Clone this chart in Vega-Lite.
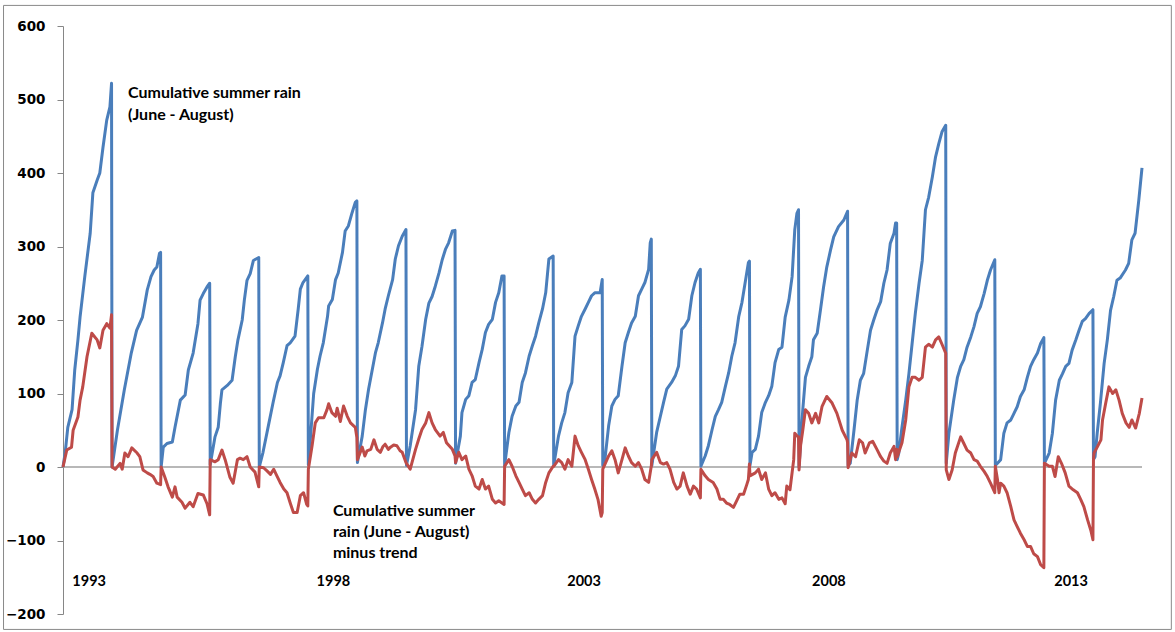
{
"$schema": "https://vega.github.io/schema/vega-lite/v6.json",
"width": 1079, "height": 588,
"autosize": {"type": "none"},
"padding": {"left": 63, "top": 26, "right": 33, "bottom": 18},
"background": "white",
"config": {"view": {"stroke": null},
"axisY": {"title": null, "grid": false, "tickSize": 6, "tickColor": "#868686", "domainColor": "#868686", "labelFont": "DejaVu Sans", "labelFontWeight": "bold", "labelFontSize": 13.5, "labelColor": "#000000", "labelPadding": 12}},
"datasets": {
"rain": [
{"i":0,"v":0},{"i":4,"v":19},{"i":9,"v":54},{"i":17,"v":78},{"i":22,"v":132},{"i":28,"v":173},{"i":32,"v":204},{"i":41,"v":260},{"i":51,"v":318},{"i":56,"v":373},{"i":64,"v":390},{"i":69,"v":400},{"i":75,"v":435},{"i":82,"v":472},{"i":88,"v":490},{"i":91,"v":522},
{"i":92,"v":0},{"i":102,"v":50},{"i":115,"v":105},{"i":128,"v":155},{"i":138,"v":186},{"i":149,"v":204},{"i":158,"v":241},{"i":165,"v":259},{"i":171,"v":268},{"i":176,"v":272},{"i":181,"v":291},{"i":183,"v":292},
{"i":184,"v":0},{"i":188,"v":27},{"i":195,"v":32},{"i":205,"v":34},{"i":210,"v":54},{"i":220,"v":91},{"i":229,"v":98},{"i":235,"v":132},{"i":244,"v":155},{"i":253,"v":195},{"i":257,"v":227},{"i":263,"v":236},{"i":270,"v":245},{"i":275,"v":250},
{"i":276,"v":3},{"i":285,"v":41},{"i":291,"v":54},{"i":295,"v":86},{"i":298,"v":105},{"i":308,"v":111},{"i":317,"v":118},{"i":323,"v":150},{"i":328,"v":173},{"i":336,"v":200},{"i":340,"v":227},{"i":345,"v":254},{"i":351,"v":263},{"i":357,"v":281},{"i":367,"v":285},
{"i":368,"v":0},{"i":375,"v":20},{"i":385,"v":56},{"i":394,"v":88},{"i":402,"v":115},{"i":407,"v":124},{"i":413,"v":142},{"i":420,"v":165},{"i":426,"v":169},{"i":435,"v":178},{"i":441,"v":215},{"i":445,"v":242},{"i":450,"v":251},{"i":459,"v":260},
{"i":460,"v":3},{"i":465,"v":50},{"i":470,"v":100},{"i":477,"v":133},{"i":482,"v":151},{"i":488,"v":169},{"i":496,"v":205},{"i":498,"v":219},{"i":505,"v":228},{"i":511,"v":255},{"i":516,"v":264},{"i":524,"v":292},{"i":529,"v":321},{"i":535,"v":328},{"i":542,"v":346},{"i":548,"v":360},{"i":551,"v":362},
{"i":552,"v":6},{"i":561,"v":42},{"i":567,"v":78},{"i":573,"v":106},{"i":580,"v":133},{"i":586,"v":156},{"i":591,"v":169},{"i":599,"v":196},{"i":604,"v":215},{"i":610,"v":233},{"i":618,"v":255},{"i":623,"v":283},{"i":629,"v":301},{"i":636,"v":314},{"i":643,"v":323},
{"i":644,"v":2},{"i":651,"v":29},{"i":661,"v":78},{"i":667,"v":137},{"i":673,"v":164},{"i":680,"v":201},{"i":686,"v":223},{"i":692,"v":232},{"i":698,"v":246},{"i":705,"v":264},{"i":711,"v":282},{"i":717,"v":296},{"i":723,"v":305},{"i":730,"v":321},{"i":735,"v":322},
{"i":736,"v":5},{"i":745,"v":42},{"i":748,"v":74},{"i":755,"v":92},{"i":761,"v":97},{"i":767,"v":115},{"i":773,"v":119},{"i":780,"v":142},{"i":786,"v":160},{"i":792,"v":183},{"i":798,"v":194},{"i":805,"v":201},{"i":811,"v":224},{"i":817,"v":237},{"i":823,"v":260},{"i":827,"v":260},
{"i":828,"v":2},{"i":836,"v":47},{"i":842,"v":69},{"i":849,"v":83},{"i":855,"v":88},{"i":861,"v":115},{"i":867,"v":128},{"i":874,"v":151},{"i":880,"v":165},{"i":886,"v":178},{"i":892,"v":196},{"i":899,"v":215},{"i":905,"v":237},{"i":911,"v":283},{"i":919,"v":287},
{"i":920,"v":2},{"i":929,"v":42},{"i":935,"v":60},{"i":941,"v":74},{"i":947,"v":101},{"i":954,"v":115},{"i":960,"v":178},{"i":966,"v":192},{"i":972,"v":205},{"i":979,"v":215},{"i":985,"v":224},{"i":991,"v":233},{"i":997,"v":237},{"i":1007,"v":237},{"i":1011,"v":255},
{"i":1012,"v":2},{"i":1016,"v":10},{"i":1023,"v":56},{"i":1029,"v":83},{"i":1035,"v":92},{"i":1041,"v":97},{"i":1048,"v":137},{"i":1054,"v":169},{"i":1060,"v":183},{"i":1066,"v":196},{"i":1073,"v":205},{"i":1079,"v":233},{"i":1085,"v":242},{"i":1091,"v":251},{"i":1098,"v":269},{"i":1101,"v":305},{"i":1103,"v":310},
{"i":1104,"v":2},{"i":1113,"v":47},{"i":1120,"v":69},{"i":1126,"v":88},{"i":1132,"v":106},{"i":1141,"v":115},{"i":1148,"v":124},{"i":1154,"v":137},{"i":1160,"v":187},{"i":1166,"v":192},{"i":1173,"v":201},{"i":1179,"v":233},{"i":1185,"v":251},{"i":1191,"v":264},{"i":1195,"v":269},
{"i":1196,"v":1},{"i":1204,"v":15},{"i":1210,"v":29},{"i":1217,"v":51},{"i":1223,"v":69},{"i":1229,"v":78},{"i":1235,"v":88},{"i":1242,"v":110},{"i":1248,"v":128},{"i":1254,"v":151},{"i":1260,"v":169},{"i":1267,"v":205},{"i":1273,"v":224},{"i":1279,"v":251},{"i":1285,"v":278},{"i":1287,"v":280},
{"i":1288,"v":2},{"i":1292,"v":20},{"i":1298,"v":24},{"i":1304,"v":42},{"i":1310,"v":74},{"i":1317,"v":88},{"i":1323,"v":97},{"i":1329,"v":110},{"i":1335,"v":142},{"i":1342,"v":160},{"i":1348,"v":163},{"i":1354,"v":204},{"i":1361,"v":227},{"i":1367,"v":259},{"i":1372,"v":323},{"i":1376,"v":345},{"i":1379,"v":350},
{"i":1380,"v":0},{"i":1387,"v":78},{"i":1392,"v":122},{"i":1398,"v":137},{"i":1404,"v":150},{"i":1407,"v":173},{"i":1414,"v":182},{"i":1420,"v":213},{"i":1426,"v":245},{"i":1432,"v":272},{"i":1439,"v":295},{"i":1445,"v":313},{"i":1454,"v":327},{"i":1464,"v":336},{"i":1471,"v":348},
{"i":1472,"v":2},{"i":1476,"v":5},{"i":1483,"v":50},{"i":1489,"v":91},{"i":1495,"v":118},{"i":1501,"v":127},{"i":1508,"v":159},{"i":1514,"v":186},{"i":1520,"v":200},{"i":1526,"v":213},{"i":1533,"v":225},{"i":1539,"v":250},{"i":1545,"v":268},{"i":1551,"v":304},{"i":1558,"v":318},{"i":1561,"v":332},{"i":1563,"v":332},
{"i":1564,"v":10},{"i":1567,"v":19},{"i":1573,"v":54},{"i":1580,"v":91},{"i":1586,"v":127},{"i":1592,"v":168},{"i":1598,"v":209},{"i":1605,"v":250},{"i":1611,"v":281},{"i":1617,"v":350},{"i":1623,"v":367},{"i":1630,"v":395},{"i":1636,"v":422},{"i":1642,"v":440},{"i":1648,"v":456},{"i":1655,"v":465},
{"i":1656,"v":5},{"i":1661,"v":46},{"i":1670,"v":91},{"i":1677,"v":122},{"i":1683,"v":137},{"i":1689,"v":146},{"i":1695,"v":163},{"i":1702,"v":177},{"i":1708,"v":191},{"i":1714,"v":209},{"i":1720,"v":218},{"i":1727,"v":236},{"i":1733,"v":254},{"i":1739,"v":268},{"i":1747,"v":282},
{"i":1748,"v":2},{"i":1752,"v":5},{"i":1758,"v":10},{"i":1764,"v":46},{"i":1770,"v":60},{"i":1777,"v":64},{"i":1783,"v":73},{"i":1789,"v":82},{"i":1795,"v":96},{"i":1802,"v":105},{"i":1808,"v":122},{"i":1814,"v":137},{"i":1820,"v":146},{"i":1827,"v":155},{"i":1833,"v":168},{"i":1839,"v":176},
{"i":1840,"v":5},{"i":1849,"v":19},{"i":1855,"v":46},{"i":1861,"v":91},{"i":1868,"v":118},{"i":1874,"v":127},{"i":1880,"v":137},{"i":1886,"v":141},{"i":1892,"v":159},{"i":1899,"v":173},{"i":1905,"v":186},{"i":1911,"v":198},{"i":1917,"v":202},{"i":1924,"v":209},{"i":1931,"v":214},
{"i":1932,"v":10},{"i":1935,"v":14},{"i":1939,"v":46},{"i":1945,"v":87},{"i":1952,"v":141},{"i":1958,"v":173},{"i":1964,"v":213},{"i":1970,"v":232},{"i":1976,"v":254},{"i":1982,"v":257},{"i":1992,"v":268},{"i":1998,"v":277},{"i":2004,"v":309},{"i":2010,"v":318},{"i":2017,"v":363},{"i":2023,"v":407}
],
"detrended": [
{"i":0,"v":0},{"i":7,"v":23},{"i":16,"v":27},{"i":19,"v":50},{"i":28,"v":68},{"i":32,"v":91},{"i":37,"v":109},{"i":45,"v":150},{"i":54,"v":182},{"i":64,"v":173},{"i":69,"v":162},{"i":75,"v":186},{"i":82,"v":195},{"i":88,"v":189},{"i":91,"v":207},
{"i":92,"v":0},{"i":98,"v":-3},{"i":107,"v":5},{"i":111,"v":-3},{"i":116,"v":19},{"i":122,"v":14},{"i":129,"v":26},{"i":139,"v":19},{"i":144,"v":14},{"i":150,"v":-4},{"i":158,"v":-8},{"i":163,"v":-10},{"i":169,"v":-13},{"i":176,"v":-22},{"i":183,"v":-24},
{"i":184,"v":0},{"i":191,"v":-14},{"i":197,"v":-27},{"i":205,"v":-41},{"i":210,"v":-27},{"i":214,"v":-41},{"i":223,"v":-48},{"i":229,"v":-56},{"i":238,"v":-48},{"i":244,"v":-54},{"i":253,"v":-36},{"i":263,"v":-38},{"i":270,"v":-50},{"i":275,"v":-65},
{"i":276,"v":10},{"i":285,"v":7},{"i":291,"v":10},{"i":298,"v":23},{"i":304,"v":10},{"i":313,"v":-14},{"i":319,"v":-22},{"i":327,"v":10},{"i":332,"v":12},{"i":338,"v":10},{"i":345,"v":14},{"i":351,"v":0},{"i":360,"v":-7},{"i":367,"v":-27},
{"i":368,"v":0},{"i":376,"v":-1},{"i":382,"v":-5},{"i":389,"v":-10},{"i":395,"v":-3},{"i":401,"v":-12},{"i":407,"v":-21},{"i":414,"v":-30},{"i":420,"v":-35},{"i":426,"v":-49},{"i":432,"v":-62},{"i":439,"v":-62},{"i":445,"v":-39},{"i":451,"v":-35},{"i":457,"v":-51},{"i":459,"v":-53},
{"i":460,"v":-3},{"i":467,"v":29},{"i":473,"v":60},{"i":479,"v":67},{"i":489,"v":67},{"i":495,"v":78},{"i":498,"v":86},{"i":504,"v":74},{"i":511,"v":69},{"i":514,"v":80},{"i":520,"v":62},{"i":526,"v":83},{"i":533,"v":69},{"i":539,"v":60},{"i":548,"v":54},{"i":551,"v":40},
{"i":552,"v":10},{"i":561,"v":27},{"i":566,"v":15},{"i":570,"v":22},{"i":577,"v":24},{"i":583,"v":37},{"i":589,"v":24},{"i":595,"v":20},{"i":600,"v":28},{"i":604,"v":31},{"i":610,"v":24},{"i":614,"v":27},{"i":620,"v":30},{"i":626,"v":29},{"i":632,"v":22},{"i":636,"v":20},{"i":643,"v":6},
{"i":644,"v":5},{"i":651,"v":-3},{"i":661,"v":24},{"i":667,"v":38},{"i":673,"v":51},{"i":680,"v":60},{"i":686,"v":74},{"i":692,"v":60},{"i":698,"v":51},{"i":707,"v":42},{"i":713,"v":47},{"i":719,"v":33},{"i":730,"v":24},{"i":735,"v":15},
{"i":736,"v":6},{"i":742,"v":20},{"i":748,"v":10},{"i":755,"v":15},{"i":761,"v":-3},{"i":767,"v":-12},{"i":773,"v":-26},{"i":780,"v":-30},{"i":786,"v":-17},{"i":792,"v":-30},{"i":798,"v":-26},{"i":805,"v":-44},{"i":811,"v":-49},{"i":817,"v":-46},{"i":823,"v":-49},{"i":827,"v":-51},
{"i":828,"v":1},{"i":836,"v":10},{"i":842,"v":1},{"i":849,"v":-12},{"i":855,"v":-21},{"i":861,"v":-30},{"i":867,"v":-39},{"i":874,"v":-35},{"i":880,"v":-44},{"i":886,"v":-49},{"i":892,"v":-44},{"i":899,"v":-39},{"i":905,"v":-21},{"i":911,"v":-8},{"i":919,"v":1},
{"i":920,"v":1},{"i":929,"v":10},{"i":935,"v":6},{"i":941,"v":-3},{"i":947,"v":10},{"i":954,"v":1},{"i":960,"v":42},{"i":966,"v":29},{"i":972,"v":20},{"i":979,"v":10},{"i":985,"v":-3},{"i":991,"v":-17},{"i":997,"v":-30},{"i":1003,"v":-44},{"i":1009,"v":-67},{"i":1011,"v":-62},
{"i":1012,"v":-3},{"i":1023,"v":15},{"i":1029,"v":22},{"i":1035,"v":10},{"i":1041,"v":-8},{"i":1048,"v":10},{"i":1054,"v":26},{"i":1060,"v":15},{"i":1066,"v":6},{"i":1073,"v":1},{"i":1079,"v":6},{"i":1085,"v":-3},{"i":1091,"v":-17},{"i":1098,"v":-21},{"i":1102,"v":-3},{"i":1103,"v":1},
{"i":1104,"v":10},{"i":1113,"v":20},{"i":1120,"v":6},{"i":1126,"v":4},{"i":1132,"v":6},{"i":1138,"v":-3},{"i":1145,"v":-21},{"i":1151,"v":-30},{"i":1157,"v":-26},{"i":1163,"v":-8},{"i":1170,"v":-26},{"i":1176,"v":-37},{"i":1182,"v":-26},{"i":1188,"v":-30},{"i":1195,"v":-42},
{"i":1196,"v":-3},{"i":1204,"v":-12},{"i":1210,"v":-17},{"i":1219,"v":-21},{"i":1226,"v":-30},{"i":1232,"v":-44},{"i":1238,"v":-44},{"i":1244,"v":-49},{"i":1250,"v":-51},{"i":1257,"v":-55},{"i":1263,"v":-46},{"i":1269,"v":-37},{"i":1276,"v":-37},{"i":1282,"v":-24},{"i":1285,"v":-17},{"i":1287,"v":4},
{"i":1288,"v":-12},{"i":1298,"v":-8},{"i":1304,"v":-3},{"i":1310,"v":-17},{"i":1317,"v":-8},{"i":1323,"v":-30},{"i":1329,"v":-39},{"i":1335,"v":-35},{"i":1342,"v":-44},{"i":1348,"v":-42},{"i":1354,"v":-50},{"i":1357,"v":-26},{"i":1363,"v":-31},{"i":1370,"v":10},{"i":1372,"v":46},{"i":1378,"v":41},{"i":1379,"v":41},
{"i":1380,"v":-4},{"i":1383,"v":30},{"i":1387,"v":50},{"i":1392,"v":78},{"i":1398,"v":73},{"i":1404,"v":60},{"i":1411,"v":73},{"i":1417,"v":60},{"i":1423,"v":82},{"i":1432,"v":96},{"i":1442,"v":87},{"i":1451,"v":73},{"i":1461,"v":50},{"i":1470,"v":37},{"i":1471,"v":33},
{"i":1472,"v":-1},{"i":1479,"v":19},{"i":1486,"v":14},{"i":1493,"v":37},{"i":1499,"v":33},{"i":1504,"v":19},{"i":1512,"v":33},{"i":1518,"v":35},{"i":1526,"v":24},{"i":1533,"v":14},{"i":1539,"v":8},{"i":1545,"v":5},{"i":1551,"v":19},{"i":1558,"v":28},{"i":1561,"v":10},{"i":1563,"v":24},
{"i":1564,"v":14},{"i":1573,"v":33},{"i":1580,"v":64},{"i":1586,"v":109},{"i":1592,"v":122},{"i":1598,"v":122},{"i":1605,"v":118},{"i":1611,"v":122},{"i":1617,"v":163},{"i":1623,"v":167},{"i":1630,"v":163},{"i":1636,"v":173},{"i":1642,"v":177},{"i":1648,"v":167},{"i":1655,"v":155},
{"i":1656,"v":-4},{"i":1661,"v":-17},{"i":1667,"v":-4},{"i":1673,"v":19},{"i":1683,"v":41},{"i":1689,"v":32},{"i":1695,"v":23},{"i":1702,"v":19},{"i":1708,"v":10},{"i":1714,"v":8},{"i":1720,"v":1},{"i":1727,"v":-6},{"i":1733,"v":-13},{"i":1739,"v":-22},{"i":1747,"v":-35},
{"i":1748,"v":1},{"i":1752,"v":-17},{"i":1755,"v":-35},{"i":1758,"v":-22},{"i":1764,"v":-26},{"i":1770,"v":-35},{"i":1777,"v":-54},{"i":1783,"v":-72},{"i":1789,"v":-81},{"i":1795,"v":-90},{"i":1802,"v":-99},{"i":1808,"v":-108},{"i":1814,"v":-108},{"i":1820,"v":-118},{"i":1827,"v":-122},{"i":1833,"v":-133},{"i":1839,"v":-137},
{"i":1840,"v":5},{"i":1849,"v":1},{"i":1855,"v":1},{"i":1860,"v":-13},{"i":1866,"v":14},{"i":1872,"v":5},{"i":1879,"v":-8},{"i":1886,"v":-26},{"i":1894,"v":-31},{"i":1902,"v":-35},{"i":1908,"v":-44},{"i":1914,"v":-54},{"i":1921,"v":-72},{"i":1927,"v":-86},{"i":1931,"v":-99},
{"i":1932,"v":10},{"i":1933,"v":19},{"i":1939,"v":27},{"i":1946,"v":37},{"i":1949,"v":64},{"i":1955,"v":87},{"i":1961,"v":109},{"i":1968,"v":100},{"i":1974,"v":105},{"i":1980,"v":91},{"i":1986,"v":73},{"i":1993,"v":60},{"i":1999,"v":54},{"i":2004,"v":64},{"i":2011,"v":53},{"i":2018,"v":73},{"i":2023,"v":94}
],
"years": [
{"year":"1993","i":49},{"year":"1998","i":507},{"year":"2003","i":977},{"year":"2008","i":1436},{"year":"2013","i":1890}
],
"one": [{}]
},
"layer": [
{
"data": {"name": "one"},
"mark": {"type": "rect", "fill": "transparent", "stroke": "#8a8a8a", "strokeWidth": 1, "clip": false},
"encoding": {
"x": {"datum": -111.5, "type": "quantitative", "scale": {"domain": [0, 2023], "nice": false, "zero": false}, "axis": null},
"x2": {"datum": 2078},
"y": {"datum": 628, "type": "quantitative", "scale": {"domain": [-200, 600], "nice": false, "zero": false}, "axis": {"values": [-200, -100, 0, 100, 200, 300, 400, 500, 600]}},
"y2": {"datum": -221}
}
},
{
"data": {"name": "one"},
"mark": {"type": "rule", "color": "#a0a0a0", "strokeWidth": 1.5},
"encoding": {
"y": {"datum": 0, "type": "quantitative", "axis": {"values": [-200, -100, 0, 100, 200, 300, 400, 500, 600]}}
}
},
{
"data": {"name": "rain"},
"mark": {"type": "line", "color": "#4a7ebb", "strokeWidth": 3, "strokeJoin": "round"},
"encoding": {
"x": {"field": "i", "type": "quantitative", "axis": null},
"y": {"field": "v", "type": "quantitative", "axis": {"values": [-200, -100, 0, 100, 200, 300, 400, 500, 600]}}
}
},
{
"data": {"name": "detrended"},
"mark": {"type": "line", "color": "#be4b48", "strokeWidth": 3, "strokeJoin": "round"},
"encoding": {
"x": {"field": "i", "type": "quantitative", "axis": null},
"y": {"field": "v", "type": "quantitative", "axis": {"values": [-200, -100, 0, 100, 200, 300, 400, 500, 600]}}
}
},
{
"data": {"name": "years"},
"mark": {"type": "text", "font": "Lato", "fontWeight": "bold", "fontSize": 14.5, "color": "#000000", "align": "center", "baseline": "middle"},
"encoding": {
"x": {"field": "i", "type": "quantitative", "axis": null},
"y": {"datum": -156.5, "type": "quantitative", "axis": {"values": [-200, -100, 0, 100, 200, 300, 400, 500, 600]}},
"text": {"field": "year"}
}
},
{
"data": {"name": "one"},
"mark": {"type": "text", "font": "Lato", "fontWeight": "bold", "fontSize": 16, "color": "#000000", "align": "left", "baseline": "top", "lineHeight": 22},
"encoding": {
"x": {"datum": 122, "type": "quantitative", "axis": null},
"y": {"datum": 519.5, "type": "quantitative", "axis": {"values": [-200, -100, 0, 100, 200, 300, 400, 500, 600]}},
"text": {"value": ["Cumulative summer rain", "(June - August)"]}
}
},
{
"data": {"name": "one"},
"mark": {"type": "text", "font": "Lato", "fontWeight": "bold", "fontSize": 16, "color": "#000000", "align": "left", "baseline": "top", "lineHeight": 21},
"encoding": {
"x": {"datum": 506, "type": "quantitative", "axis": null},
"y": {"datum": -49, "type": "quantitative", "axis": {"values": [-200, -100, 0, 100, 200, 300, 400, 500, 600]}},
"text": {"value": ["Cumulative summer", "rain (June - August)", "minus trend"]}
}
}
]
}
